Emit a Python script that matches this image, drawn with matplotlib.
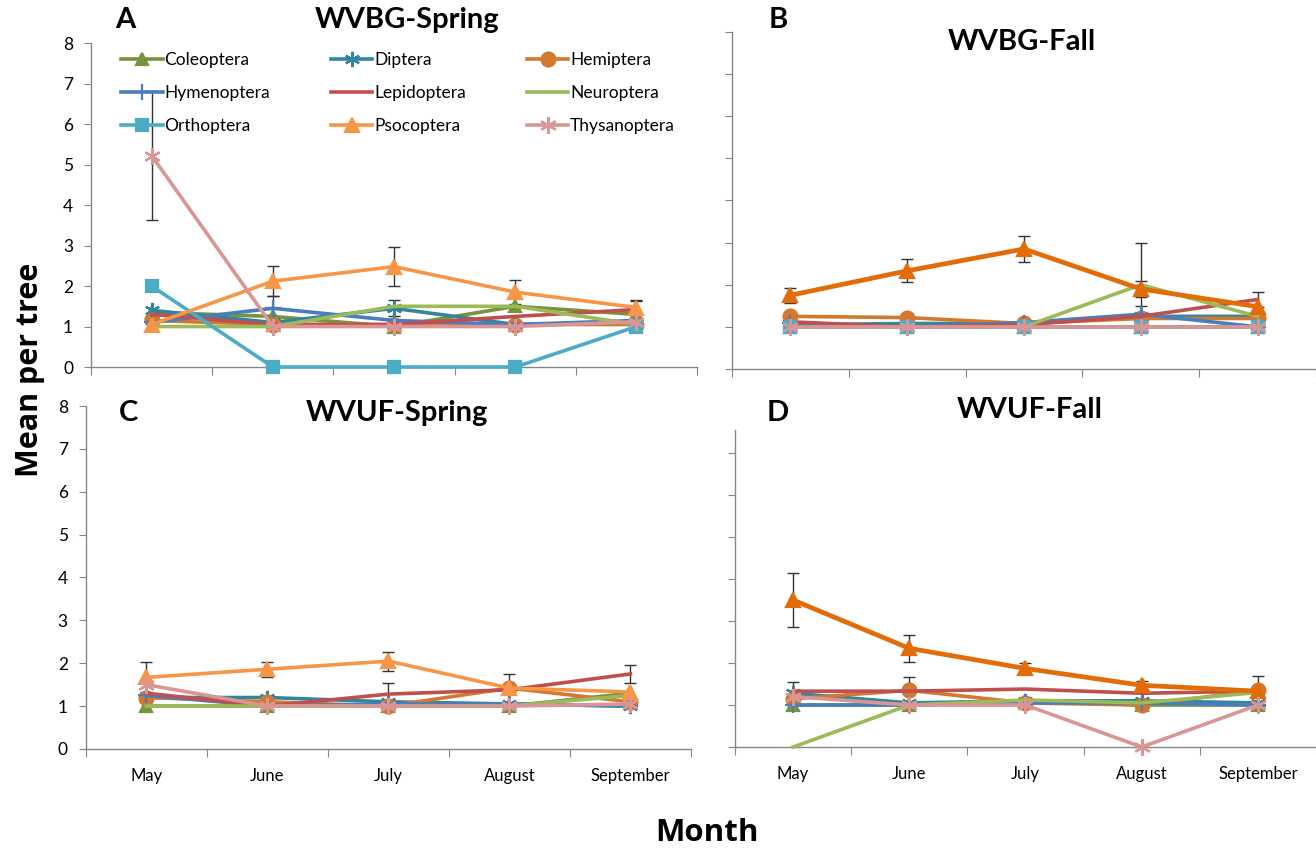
import matplotlib
matplotlib.use('Agg')
import matplotlib.pyplot as plt
import numpy as np

plt.rcParams['font.family'] = ['Lato', 'DejaVu Sans']

months = ['May', 'June', 'July', 'August', 'September']
orders = ['Coleoptera', 'Diptera', 'Hemiptera', 'Hymenoptera', 'Lepidoptera',
          'Neuroptera', 'Orthoptera', 'Psocoptera', 'Thysanoptera']

nan = np.nan

# mean per tree, one row per order (same order as `orders`)
wvbg_spring = [
    [1.35, 1.25, 1.00, 1.50, 1.30],
    [1.40, 1.10, 1.45, 1.05, 1.10],
    [1.15, 1.05, 1.05, 1.05, 1.05],
    [1.10, 1.45, 1.15, 1.05, 1.15],
    [1.30, 1.05, 1.05, 1.25, 1.42],
    [1.00, 1.00, 1.50, 1.50, 1.05],
    [2.00, 0.00, 0.00, 0.00, 1.00],
    [1.05, 2.12, 2.48, 1.85, 1.47],
    [5.22, 1.00, 1.00, 1.00, 1.12],
]
wvbg_fall = [
    [1.00, 1.00, 1.00, 1.00, 1.00],
    [1.05, 1.08, 1.08, 1.25, 1.25],
    [1.25, 1.22, 1.08, 1.20, 1.20],
    [1.10, 1.00, 1.10, 1.30, 1.00],
    [1.12, 1.00, 1.05, 1.25, 1.65],
    [1.00, 1.00, 1.00, 2.00, 1.25],
    [1.00, 1.00, 1.00, 1.00, 1.00],
    [1.75, 2.33, 2.85, 1.90, 1.48],
    [1.00, 1.00, 1.00, 1.00, 1.00],
]
wvuf_spring = [
    [1.00, 1.00, 1.00, 1.00, 1.30],
    [1.20, 1.20, 1.10, 1.05, 1.00],
    [1.20, 1.10, 1.00, 1.42, 1.10],
    [1.25, 1.00, 1.05, 1.05, 1.00],
    [1.30, 1.00, 1.28, 1.38, 1.75],
    [1.00, 1.00, 1.00, 1.00, 1.25],
    [nan, nan, nan, nan, nan],
    [1.67, 1.86, 2.05, 1.42, 1.33],
    [1.50, 1.00, 1.00, 1.00, 1.05],
]
wvuf_fall = [
    [1.00, 1.00, 1.10, 1.00, 1.00],
    [1.28, 1.05, 1.10, 1.10, 1.05],
    [1.15, 1.35, 1.05, 1.00, 1.35],
    [1.00, 1.00, 1.05, 1.05, 1.00],
    [1.33, 1.33, 1.38, 1.28, 1.33],
    [0.00, 1.00, 1.12, 1.05, 1.30],
    [nan, nan, nan, nan, nan],
    [3.50, 2.35, 1.87, 1.47, 1.33],
    [1.20, 1.00, 1.00, 0.00, 1.00],
]

# standard errors for the series whose bars show
wvbg_spring_err = {
    'Diptera': [0, 0, 0.20, 0, 0],
    'Hymenoptera': [0, 0.30, 0, 0, 0],
    'Lepidoptera': [0, 0, 0, 0, 0.22],
    'Psocoptera': [0, 0.37, 0.48, 0.30, 0.18],
    'Thysanoptera': [1.60, 0, 0, 0, 0],
}
wvbg_fall_err = {
    'Neuroptera': [0, 0, 0, 1.00, 0],
    'Hymenoptera': [0.15, 0, 0, 0.20, 0],
    'Lepidoptera': [0, 0, 0, 0, 0.18],
    'Psocoptera': [0.18, 0.27, 0.30, 0.19, 0],
}
wvuf_spring_err = {
    'Lepidoptera': [0, 0, 0.27, 0, 0.20],
    'Psocoptera': [0.35, 0.18, 0.22, 0.32, 0],
}
wvuf_fall_err = {
    'Diptera': [0.27, 0, 0, 0, 0],
    'Hemiptera': [0, 0.32, 0, 0, 0.35],
    'Psocoptera': [0.65, 0.32, 0.13, 0.10, 0],
}

colors = {
    'Coleoptera': '#77933C', 'Diptera': '#31859C', 'Hemiptera': '#D2782F',
    'Hymenoptera': '#4A7EBB', 'Lepidoptera': '#C0504D', 'Neuroptera': '#9BBB59',
    'Orthoptera': '#4BACC6', 'Psocoptera': '#F79646', 'Thysanoptera': '#D99694',
}
markers = {
    'Coleoptera': '^', 'Diptera': (6, 2, 0), 'Hemiptera': 'o', 'Hymenoptera': '+',
    'Lepidoptera': 'None', 'Neuroptera': 'None', 'Orthoptera': 's',
    'Psocoptera': '^', 'Thysanoptera': (6, 2, 0),
}
msizes = {'Coleoptera': 9, 'Diptera': 11, 'Hemiptera': 10, 'Hymenoptera': 12,
          'Orthoptera': 9, 'Psocoptera': 10, 'Thysanoptera': 12}

fig = plt.figure(figsize=(13.16, 8.51), dpi=100)

panels = [
    # data, errors, rect, top, show y labels, show months, psoc colour
    (wvbg_spring, wvbg_spring_err, [0.0692, 0.5687, 0.4605, 0.3807], 8, True, False, '#F79646'),
    (wvbg_fall, wvbg_fall_err, [0.5562, 0.5664, 0.4438, 0.3960], 8, False, False, '#E36C09'),
    (wvuf_spring, wvuf_spring_err, [0.0653, 0.1199, 0.4597, 0.4030], 8, True, True, '#F79646'),
    (wvuf_fall, wvuf_fall_err, [0.5585, 0.1222, 0.4415, 0.3725], 7.55, False, True, '#E36C09'),
]

x = np.arange(len(months))
axes = []
for data, errs, rect, top, ylab, xlab, psoc in panels:
    ax = fig.add_axes(rect)
    axes.append(ax)
    for name, vals in zip(orders, data):
        c = psoc if name == 'Psocoptera' else colors[name]
        lw = 3.4 if (name == 'Psocoptera' and psoc == '#E36C09') else 2.6
        ax.plot(x, vals, color=c, lw=lw, marker=markers[name],
                markersize=msizes.get(name, 8), markeredgecolor=c,
                markerfacecolor=c, mew=1.6, label=name, zorder=3,
                solid_joinstyle='round', clip_on=False)
        if name in errs:
            e = np.array(errs[name])
            ok = e > 0
            ax.errorbar(x[ok], np.array(vals)[ok], yerr=e[ok], fmt='none',
                        ecolor='#333333', elinewidth=1.0, capsize=4,
                        capthick=1.0, zorder=2)
    ax.set_xticks(np.arange(-0.5, 5, 1))
    ax.set_xticklabels([])
    ax.set_xticks(x, minor=True)
    ax.set_xticklabels(months if xlab else [], minor=True, fontsize=12)
    ax.tick_params(axis='x', which='minor', length=0, pad=14)
    ax.tick_params(axis='x', which='major', length=6, color='#868686', direction='out')
    if ylab:
        ax.set_yticks(range(0, 9))
        ax.set_yticklabels([str(v) for v in range(0, 9)], fontsize=12.5)
    else:
        ax.set_yticks(range(0, int(top) + 1))
        ax.set_yticklabels([])
    ax.tick_params(axis='y', length=5, color='#868686', direction='out', pad=8)
    ax.set_xlim(-0.5, 4.5)
    ax.set_ylim(0, top)
    for s in ['top', 'right']:
        ax.spines[s].set_visible(False)
    for s in ['left', 'bottom']:
        ax.spines[s].set_color('#868686')
        ax.spines[s].set_linewidth(1.0)

# panel letters and titles
title_kw = dict(fontsize=21, fontweight='bold', va='center', ha='center')
fig.text(125 / 1316, 1 - 20 / 851, 'A', **title_kw)
fig.text(407 / 1316, 1 - 20 / 851, 'WVBG-Spring', **title_kw)
fig.text(778 / 1316, 1 - 20 / 851, 'B', **title_kw)
fig.text(1022 / 1316, 1 - 42 / 851, 'WVBG-Fall', **title_kw)
fig.text(128 / 1316, 1 - 413 / 851, 'C', **title_kw)
fig.text(397 / 1316, 1 - 413 / 851, 'WVUF-Spring', **title_kw)
fig.text(778 / 1316, 1 - 413 / 851, 'D', **title_kw)
fig.text(1030 / 1316, 1 - 410 / 851, 'WVUF-Fall', **title_kw)

fig.text(30 / 1316, 1 - 370 / 851, 'Mean per tree', fontsize=22, fontweight='bold',
         rotation=90, va='center', ha='center', family=['Open Sans', 'DejaVu Sans'])
fig.text(707 / 1316, 1 - 833 / 851, 'Month', fontsize=22.5, fontweight='bold',
         va='center', ha='center', family=['Open Sans', 'DejaVu Sans'])

# legend filled row by row, as in the original
h, l = axes[0].get_legend_handles_labels()
idx = [0, 3, 6, 1, 4, 7, 2, 5, 8]
axes[0].legend([h[i] for i in idx], [l[i] for i in idx], loc='upper left',
               bbox_to_anchor=(0.035, 1.0), ncol=3, frameon=False,
               fontsize=12.5, handlelength=2.4, handletextpad=0.1, columnspacing=3.5,
               labelspacing=1.0, borderaxespad=0.1)

fig.savefig('out.png', dpi=100)
